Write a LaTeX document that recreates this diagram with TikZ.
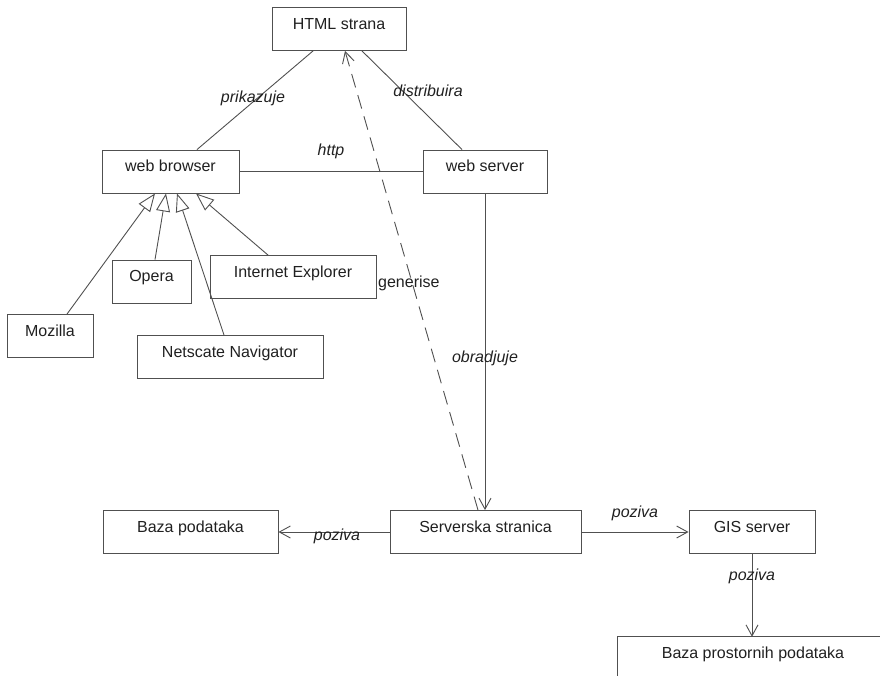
\documentclass[tikz,border=0pt]{standalone}
\usepackage{fontspec}
\setmainfont{Liberation Sans}
\usetikzlibrary{arrows.meta}
\definecolor{ln}{HTML}{505050}
\definecolor{tx}{HTML}{202020}
\begin{document}
\begin{tikzpicture}[x=1pt,y=-1pt,
  font=\fontsize{16}{19}\selectfont,
  every node/.style={text=tx},
  clsbase/.style={inner sep=0pt, text height=21.5pt, text depth=21.5pt, minimum width=#1},
  cls/.style={clsbase=#1, draw=ln, line width=0.9pt},
  rel/.style={draw=ln, line width=0.9pt},
  gen/.style={rel, -{Triangle[open, length=18pt, width=14pt]}},
  barb/.style={-{Straight Barb[length=11pt, width=12pt]}},
  call/.style={rel, barb},
  lbl/.style={font=\fontsize{16}{19}\selectfont\itshape, inner sep=0pt}]
\clip (0,0) rectangle (880,675);
\useasboundingbox (0,0) rectangle (880,675);

% classes
\node[cls=134] (html) at (339,29) {HTML strana};
\node[cls=137] (browser) at (170.5,171.5) {web browser};
\node[cls=124] (server) at (485,171.5) {web server};
\node[cls=86] (mozilla) at (50,336) {Mozilla};
\node[cls=79] (opera) at (151.5,281.5) {Opera};
\node[cls=166] (ie) at (293,277) {Internet Explorer};
\node[cls=186] (netscape) at (230,357) {Netscate Navigator};
\node[cls=175] (baza) at (190.5,532) {Baza podataka};
\node[cls=191] (serverska) at (485.5,532) {Serverska stranica};
\node[cls=126] (gis) at (752,532) {GIS server};
% the storage box runs past the right edge: only its open outline is drawn
\node[clsbase=270] (prostorni) at (753,658.5) {Baza prostornih podataka};
\draw[rel] ([xshift=60pt]prostorni.north east) -- (prostorni.north west)
  -- (prostorni.south west) -- ([xshift=60pt]prostorni.south east);

% associations around the HTML page
\draw[rel] (html.south west -| 313,0) -- (browser.north west -| 197,0);
\node[lbl] (lprik) at (253,98) {prikazuje};
\draw[rel] (html.south west -| 362,0) -- (server.north west -| 462,0);
\node[lbl] (ldist) at (428,91) {distribuira};
\draw[rel] (browser.east) -- (server.west);
\node[lbl] (lhttp) at (331,151) {http};

% browser implementations
\draw[gen] (mozilla.north west -| 67,0) -- (browser.south west -| 155,0);
\draw[gen] (opera.north west -| 155,0) -- (browser.south west -| 166,0);
\draw[gen] (netscape.north west -| 224,0) -- (browser.south west -| 177,0);
\draw[gen] (ie.north west -| 268,0) -- (browser.south west -| 196,0);

% server side
\draw[call] (server.south) -- (serverska.north -| server.south);
\node[lbl] (lobr) at (485,358) {obradjuje};
\draw[rel, dash pattern=on 14pt off 8pt, barb]
  (serverska.north -| 478,0) -- (html.south west -| 345,0);
\node[inner sep=0pt, anchor=west] (lgen) at (378,283) {generise};

\draw[call] (serverska.west) -- (baza.east);
\node[lbl] (lpoz1) at (337,536) {poziva};
\draw[call] (serverska.east) -- (gis.west);
\node[lbl] (lpoz2) at (635,513) {poziva};
\draw[call] (gis.south) -- (prostorni.north -| gis.south);
\node[lbl] (lpoz3) at (752,576) {poziva};
\end{tikzpicture}
\end{document}
